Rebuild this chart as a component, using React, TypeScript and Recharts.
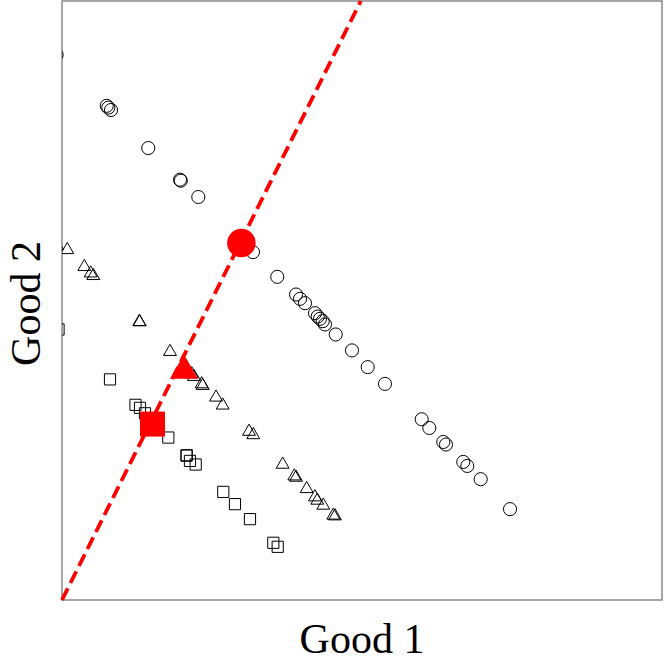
import React from "react";
import {
  ScatterChart,
  Scatter,
  XAxis,
  YAxis,
  ReferenceArea,
  ReferenceLine,
  Label,
  Symbols,
} from "recharts";

// axis titles
const xTitle = "Good 1";
const yTitle = "Good 2";

// open markers (both goods on a 0-100 scale)
const circles = [
  { x: -0.9, y: 91.0 },
  { x: 7.45, y: 82.5 },
  { x: 7.72, y: 82.2 },
  { x: 8.17, y: 81.8 },
  { x: 14.38, y: 75.45 },
  { x: 19.67, y: 70.17 },
  { x: 19.8, y: 70.0 },
  { x: 22.72, y: 67.28 },
  { x: 31.83, y: 58.08 },
  { x: 35.88, y: 53.95 },
  { x: 39.0, y: 51.0 },
  { x: 39.67, y: 50.28 },
  { x: 40.5, y: 49.55 },
  { x: 42.17, y: 47.88 },
  { x: 42.62, y: 47.33 },
  { x: 43.0, y: 46.95 },
  { x: 43.45, y: 46.55 },
  { x: 43.83, y: 46.0 },
  { x: 45.62, y: 44.33 },
  { x: 48.33, y: 41.67 },
  { x: 50.95, y: 38.88 },
  { x: 53.83, y: 36.08 },
  { x: 59.95, y: 30.17 },
  { x: 61.22, y: 28.72 },
  { x: 63.55, y: 26.38 },
  { x: 64.0, y: 25.95 },
  { x: 66.88, y: 23.05 },
  { x: 67.55, y: 22.38 },
  { x: 69.78, y: 20.17 },
  { x: 74.67, y: 15.17 },
];

const triangles = [
  { x: -0.83, y: 59.17 },
  { x: 0.88, y: 58.45 },
  { x: 3.72, y: 55.62 },
  { x: 4.78, y: 54.55 },
  { x: 5.22, y: 54.12 },
  { x: 12.88, y: 46.45 },
  { x: 12.95, y: 46.4 },
  { x: 18.0, y: 41.45 },
  { x: 21.62, y: 37.72 },
  { x: 22.0, y: 37.28 },
  { x: 23.28, y: 36.05 },
  { x: 23.45, y: 35.78 },
  { x: 25.67, y: 33.83 },
  { x: 26.78, y: 32.5 },
  { x: 31.17, y: 28.12 },
  { x: 31.88, y: 27.55 },
  { x: 36.78, y: 22.62 },
  { x: 38.72, y: 20.67 },
  { x: 39.0, y: 20.45 },
  { x: 40.78, y: 18.55 },
  { x: 42.17, y: 17.17 },
  { x: 42.55, y: 16.62 },
  { x: 43.55, y: 15.78 },
  { x: 45.22, y: 14.12 },
  { x: 45.5, y: 14.0 },
];

const squares = [
  { x: -0.58, y: 45.17 },
  { x: 8.0, y: 36.83 },
  { x: 12.25, y: 32.58 },
  { x: 13.0, y: 32.08 },
  { x: 13.83, y: 31.17 },
  { x: 17.72, y: 27.12 },
  { x: 20.78, y: 24.17 },
  { x: 20.75, y: 24.1 },
  { x: 21.33, y: 23.22 },
  { x: 22.28, y: 22.62 },
  { x: 26.88, y: 18.05 },
  { x: 28.83, y: 16.0 },
  { x: 31.33, y: 13.5 },
  { x: 35.22, y: 9.55 },
  { x: 35.95, y: 8.88 },
];

// highlighted points, all on the ray
const redCircle = [{ x: 29.9, y: 59.6 }];
const redTriangle = [{ x: 20.33, y: 38.3 }];
const redSquare = [{ x: 15.08, y: 29.37 }];

// dashed ray from the origin
const ray = [
  { x: 0, y: 0 },
  { x: 49.8, y: 100 },
];

const font = "'Liberation Serif', 'Times New Roman', serif";

// marker factory: symbol type + area (px^2)
const marker = (type: any, size: number, filled: boolean) => (p: any) => (
  <Symbols
    cx={p.cx}
    cy={p.cy}
    type={type}
    size={size}
    fill={filled ? "#ff0000" : "none"}
    stroke={filled ? "none" : "#000"}
    strokeWidth={1}
  />
);

const XTitle = (props: any) => {
  const vb = props.viewBox;
  return (
    <text
      x={vb.x + vb.width / 2}
      y={vb.y + 53}
      textAnchor="middle"
      fontFamily={font}
      fontSize={42}
      fill="#000"
    >
      {xTitle}
    </text>
  );
};

const YTitle = (props: any) => {
  const vb = props.viewBox;
  const px = vb.x + 40;
  const py = vb.y + vb.height / 2 + 3;
  return (
    <text
      x={px}
      y={py}
      transform={`rotate(-90, ${px}, ${py})`}
      textAnchor="middle"
      fontFamily={font}
      fontSize={42}
      fill="#000"
    >
      {yTitle}
    </text>
  );
};

export default function App() {
  return (
    <div style={{ position: "absolute", left: 0, top: 0, width: 664, height: 664, background: "#fff" }}>
      <ScatterChart
        width={664}
        height={664}
        margin={{ top: 1, right: 2, bottom: 0, left: 0 }}
      >
        <XAxis
          type="number"
          dataKey="x"
          domain={[0, 100]}
          allowDataOverflow
          tick={false}
          tickLine={false}
          axisLine={false}
          height={64}
          label={<Label content={XTitle} />}
        />
        <YAxis
          type="number"
          dataKey="y"
          domain={[0, 100]}
          allowDataOverflow
          tick={false}
          tickLine={false}
          axisLine={false}
          width={62}
          label={<Label content={YTitle} />}
        />
        <ReferenceArea
          x1={0}
          x2={100}
          y1={0}
          y2={100}
          ifOverflow="visible"
          fill="none"
          fillOpacity={0}
          stroke="#888"
          strokeWidth={1.5}
        />
        <Scatter data={circles} shape={marker("circle", 135, false)} isAnimationActive={false} />
        <Scatter data={triangles} shape={marker("triangle", 72, false)} isAnimationActive={false} />
        <Scatter data={squares} shape={marker("square", 125, false)} isAnimationActive={false} />
        <ReferenceLine
          segment={ray}
          ifOverflow="visible"
          stroke="#ff0000"
          strokeWidth={3.8}
          strokeDasharray="13 6"
        />
        <Scatter data={redCircle} shape={marker("circle", 640, true)} isAnimationActive={false} />
        <Scatter data={redTriangle} shape={marker("triangle", 340, true)} isAnimationActive={false} />
        <Scatter data={redSquare} shape={marker("square", 625, true)} isAnimationActive={false} />
      </ScatterChart>
    </div>
  );
}
